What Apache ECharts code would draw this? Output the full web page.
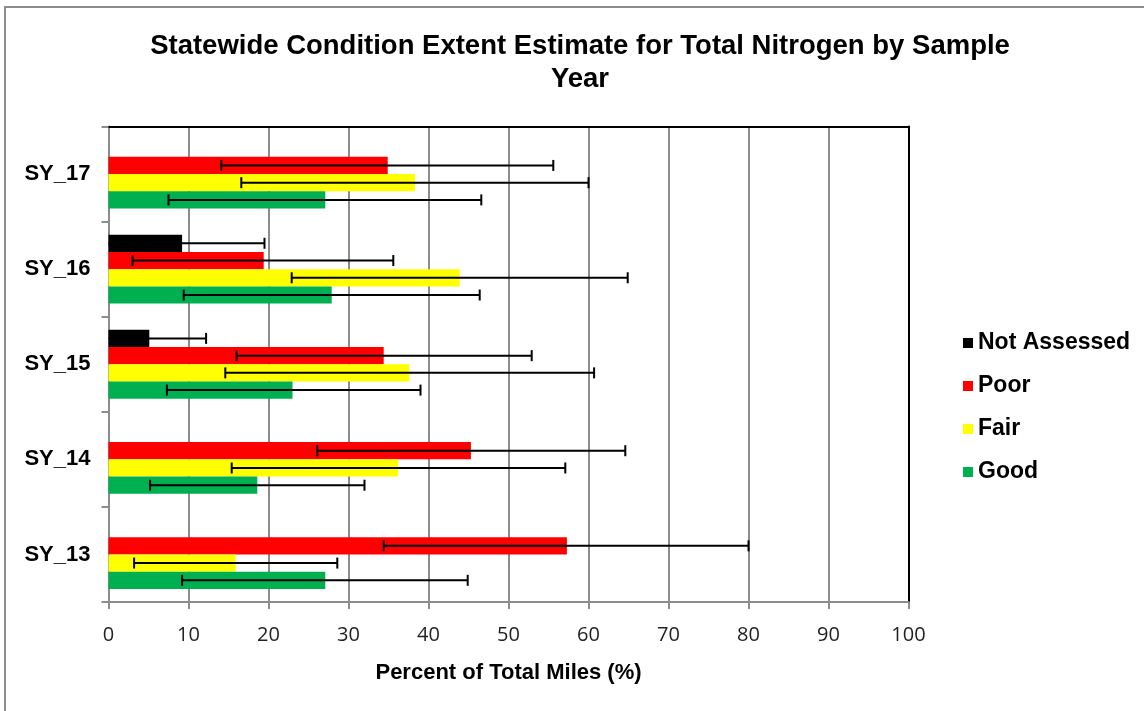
<!DOCTYPE html>
<html>
<head>
<meta charset="utf-8">
<script src="https://cdn.jsdelivr.net/npm/echarts@6/dist/echarts.min.js"></script>
<style>html,body{margin:0;padding:0;background:#fff}#c{width:1144px;height:711px}</style>
</head>
<body>
<div id="c"></div>
<script>
// ---- data ----
const categories = ['SY_13', 'SY_14', 'SY_15', 'SY_16', 'SY_17'];
const seriesNames = ['Not Assessed', 'Poor', 'Fair', 'Good'];
const notAssessed = [null, null, 5.1, 9.2, null];
const notAssessedLow = [null, null, 0, 0, null];
const notAssessedHigh = [null, null, 12.2, 19.5, null];
const poor = [57.3, 45.3, 34.4, 19.4, 34.9];
const poorLow = [34.4, 26.1, 16.0, 3.0, 14.1];
const poorHigh = [80.0, 64.6, 52.9, 35.6, 55.6];
const fair = [15.9, 36.2, 37.6, 43.9, 38.3];
const fairLow = [3.2, 15.4, 14.6, 22.9, 16.6];
const fairHigh = [28.6, 57.1, 60.7, 64.9, 60.0];
const good = [27.1, 18.6, 23.0, 27.9, 27.1];
const goodLow = [9.2, 5.2, 7.3, 9.4, 7.5];
const goodHigh = [44.9, 32.0, 39.0, 46.4, 46.6];
const xTicks = [0, 10, 20, 30, 40, 50, 60, 70, 80, 90, 100];

const values = [notAssessed, poor, fair, good];
const lows = [notAssessedLow, poorLow, fairLow, goodLow];
const highs = [notAssessedHigh, poorHigh, fairHigh, goodHigh];
const colors = ['#000000', '#FF0000', '#FFFF00', '#00B050'];

const CAT_GAP = 0.275;
const NSER = 4;

const chart = echarts.init(document.getElementById('c'), null, {renderer: 'canvas'});

const barSeries = seriesNames.map((n, i) => ({
  name: n, type: 'bar', xAxisIndex: 0, yAxisIndex: 0,
  data: values[i], barGap: '0%', barCategoryGap: (CAT_GAP * 100) + '%',
  itemStyle: {color: colors[i]}, z: 2
}));

const errSeries = seriesNames.map((n, i) => ({
  name: n + ' error', type: 'custom', xAxisIndex: 0, yAxisIndex: 0, z: 5,
  data: categories.map((c, k) => [k, lows[i][k], highs[i][k]]).filter(d => d[2] != null),
  encode: {x: [1, 2], y: 0},
  renderItem: function (params, api) {
    const k = api.value(0), lo = api.value(1), hi = api.value(2);
    const band = api.size([0, 1])[1];
    const total = band * (1 - CAT_GAP);
    const bw = total / NSER;
    const cy = api.coord([0, k])[1];
    const y = cy - total / 2 + bw * (i + 0.5);
    const x0 = api.coord([Math.max(lo, 0), k])[0];
    const x1 = api.coord([hi, k])[0];
    const cap = 5.5;
    const children = [
      {type: 'line', shape: {x1: x0, y1: y, x2: x1, y2: y}, style: {stroke: '#000', lineWidth: 2}},
      {type: 'line', shape: {x1: x1, y1: y - cap, x2: x1, y2: y + cap}, style: {stroke: '#000', lineWidth: 2}}
    ];
    if (lo > 0) children.push({type: 'line', shape: {x1: x0, y1: y - cap, x2: x0, y2: y + cap}, style: {stroke: '#000', lineWidth: 2}});
    return {type: 'group', children: children};
  }
}));

const option = {
  backgroundColor: '#ffffff',
  animation: false,
  title: {
    text: 'Statewide Condition Extent Estimate for Total Nitrogen by Sample\nYear',
    left: 575, top: 25, textAlign: 'center',
    textStyle: {fontFamily: 'Liberation Sans, Arial, sans-serif', fontWeight: 'bold', fontSize: 27.5, lineHeight: 33, color: '#000'}
  },
  graphic: [{
    type: 'rect', shape: {x: 5, y: 7, width: 1200, height: 800},
    style: {fill: 'none', stroke: '#8c8c8c', lineWidth: 2}, silent: true, z: 100
  }],
  legend: {
    data: seriesNames, orient: 'vertical', left: 963, top: 331, padding: 0,
    itemWidth: 10, itemHeight: 10, itemGap: 19, icon: 'rect',
    textStyle: {fontFamily: 'Liberation Sans, Arial, sans-serif', fontWeight: 'bold', fontSize: 23, lineHeight: 24, color: '#000'}
  },
  grid: {left: 108.5, top: 126.5, width: 800, height: 475.5, containLabel: false},
  xAxis: [{
    type: 'value', min: 0, max: 100, interval: 10, position: 'bottom',
    name: 'Percent of Total Miles (%)', nameLocation: 'middle', nameGap: 60,
    nameTextStyle: {fontFamily: 'Liberation Sans, Arial, sans-serif', fontWeight: 'bold', fontSize: 22, color: '#000'},
    axisLine: {show: true, lineStyle: {color: '#8c8c8c', width: 2}},
    axisTick: {show: true, length: 7, lineStyle: {color: '#8c8c8c', width: 2}},
    axisLabel: {fontFamily: 'Open Sans, sans-serif', fontSize: 20, color: '#222', margin: 23,
      formatter: v => xTicks.includes(v) ? String(v) : ''},
    splitLine: {show: true, showMinLine: false, showMaxLine: false, lineStyle: {color: '#8c8c8c', width: 2}}
  }, {
    type: 'value', min: 0, max: 100, position: 'top',
    axisLine: {show: true, onZero: false, lineStyle: {color: '#000', width: 2}},
    axisTick: {show: false}, axisLabel: {show: false}, splitLine: {show: false}
  }],
  yAxis: [{
    type: 'category', data: categories, position: 'left',
    axisLine: {show: true, onZero: false, lineStyle: {color: '#8c8c8c', width: 2}},
    axisTick: {show: true, length: 7, lineStyle: {color: '#8c8c8c', width: 2}},
    axisLabel: {fontFamily: 'Liberation Sans, Arial, sans-serif', fontWeight: 'bold', fontSize: 22, color: '#000', margin: 18},
    splitLine: {show: false}
  }, {
    type: 'category', data: categories, position: 'right',
    axisLine: {show: true, onZero: false, lineStyle: {color: '#000', width: 2}},
    axisTick: {show: false}, axisLabel: {show: false}, splitLine: {show: false}
  }],
  series: barSeries.concat(errSeries)
};
chart.setOption(option);
</script>
</body>
</html>
